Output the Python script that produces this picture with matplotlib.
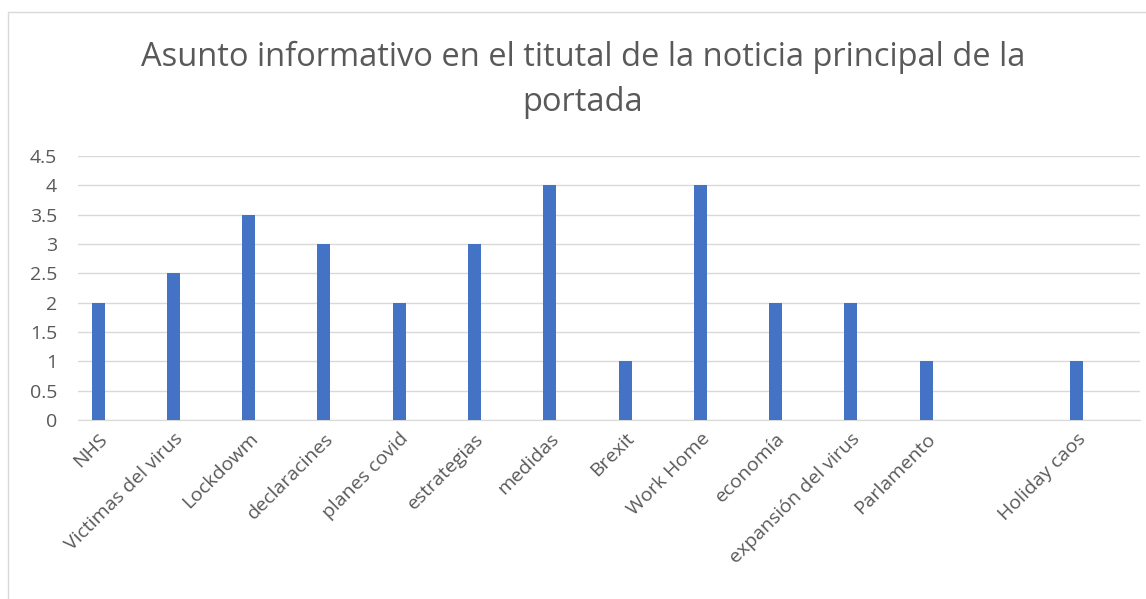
import numpy as np
import matplotlib.pyplot as plt
from matplotlib.patches import Rectangle

plt.rcParams['font.family'] = ['Open Sans', 'DejaVu Sans']

# Categories and values
categories = ['NHS', 'Victimas del virus', 'Lockdowm', 'declaracines', 'planes covid',
              'estrategias', 'medidas', 'Brexit', 'Work Home', 'economía',
              'expansión del virus', 'Parlamento', '', 'Holiday caos']
values = [2, 2.5, 3.5, 3, 2, 3, 4, 1, 4, 2, 2, 1, 0, 1]

text_color = '#595959'
bar_color = '#4472C4'
grid_color = '#D9D9D9'

fig = plt.figure(figsize=(11.46, 5.99), dpi=100)
ax = fig.add_axes([78 / 1146, 179 / 599, 1062 / 1146, 264 / 599])

x = np.arange(len(categories))
ax.bar(x, values, width=0.173, color=bar_color, zorder=3)

ax.set_ylim(0, 4.5)
ax.set_yticks(np.arange(0, 4.51, 0.5))
ax.set_yticklabels(['0', '0.5', '1', '1.5', '2', '2.5', '3', '3.5', '4', '4.5'])
ax.set_xlim(-0.266, 13.84)
ax.set_xticks(x)
ax.set_xticklabels(categories, rotation=45, ha='right', rotation_mode='anchor')

ax.grid(axis='y', color=grid_color, linewidth=1, zorder=0)
for side in ['top', 'right', 'left']:
    ax.spines[side].set_visible(False)
ax.spines['bottom'].set_color(grid_color)
ax.tick_params(length=0, colors=text_color, labelsize=14)
ax.tick_params(axis='x', pad=7)
ax.tick_params(axis='y', pad=15)

fig.text(0.5 + 10 / 1146, (599 - 80) / 599,
         'Asunto informativo en el titutal de la noticia principal de la\nportada',
         ha='center', va='center', fontsize=23.5, color=text_color, linespacing=1.45)

# Light chart border
fig.patches.append(Rectangle((8 / 1146, -0.1), 1.2, (599 - 12) / 599 + 0.1,
                             transform=fig.transFigure, fill=False,
                             edgecolor='#D9D9D9', linewidth=1))

fig.savefig('out.png', dpi=100)
